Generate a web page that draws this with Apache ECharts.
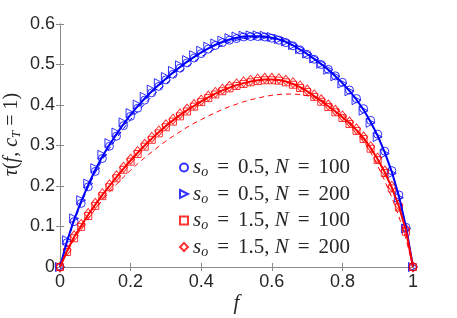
<!DOCTYPE html>
<html>
<head>
<meta charset="utf-8">
<script src="https://cdn.jsdelivr.net/npm/echarts@6/dist/echarts.min.js"></script>
<style>html,body{margin:0;padding:0;background:#fff;}#c{width:457px;height:318px;}</style>
</head>
<body>
<div id="c"></div>
<script>
const fVals = [0,0.02,0.04,0.06,0.08,0.10,0.12,0.14,0.16,0.18,0.20,0.22,0.24,0.26,0.28,0.30,0.32,0.34,0.36,0.38,0.40,0.42,0.44,0.46,0.48,0.50,0.52,0.54,0.56,0.58,0.60,0.62,0.64,0.66,0.68,0.70,0.72,0.74,0.76,0.78,0.80,0.82,0.84,0.86,0.88,0.90,0.92,0.94,0.96,0.98,1.00];

const blueSolid = [0,0.064,0.117,0.162,0.203,0.240,0.273,0.302,0.328,0.353,0.376,0.397,0.416,0.434,0.450,0.465,0.480,0.494,0.507,0.519,0.530,0.540,0.549,0.556,0.562,0.566,0.569,0.570,0.570,0.569,0.566,0.562,0.556,0.547,0.537,0.526,0.514,0.501,0.487,0.471,0.454,0.435,0.413,0.388,0.358,0.324,0.283,0.235,0.175,0.100,0];
const blueDashed = [0,0.062,0.113,0.157,0.197,0.233,0.265,0.293,0.318,0.342,0.364,0.384,0.403,0.421,0.437,0.452,0.467,0.481,0.494,0.507,0.519,0.529,0.539,0.548,0.555,0.560,0.564,0.566,0.567,0.566,0.564,0.560,0.554,0.546,0.537,0.526,0.514,0.501,0.487,0.471,0.454,0.435,0.413,0.388,0.358,0.324,0.283,0.235,0.175,0.100,0];
const blueN100 = [0,0.060,0.112,0.157,0.198,0.236,0.268,0.298,0.323,0.349,0.372,0.392,0.412,0.430,0.446,0.462,0.476,0.491,0.504,0.516,0.527,0.538,0.547,0.554,0.560,0.564,0.568,0.569,0.569,0.568,0.565,0.560,0.554,0.546,0.536,0.525,0.513,0.500,0.488,0.472,0.456,0.437,0.416,0.391,0.362,0.328,0.286,0.238,0.178,0.098,0];
const blueN200 = [0,0.066,0.120,0.165,0.206,0.244,0.277,0.306,0.332,0.357,0.380,0.401,0.420,0.438,0.454,0.469,0.484,0.498,0.511,0.523,0.534,0.544,0.552,0.559,0.565,0.569,0.571,0.572,0.572,0.571,0.568,0.563,0.557,0.548,0.538,0.527,0.515,0.502,0.487,0.471,0.453,0.434,0.412,0.386,0.356,0.321,0.280,0.231,0.171,0.095,0];

const redSolid = [0,0.040,0.074,0.102,0.129,0.154,0.178,0.200,0.222,0.243,0.263,0.282,0.300,0.317,0.333,0.348,0.362,0.375,0.387,0.398,0.409,0.419,0.428,0.436,0.443,0.449,0.454,0.458,0.461,0.463,0.463,0.462,0.458,0.452,0.444,0.434,0.422,0.410,0.397,0.384,0.370,0.355,0.338,0.318,0.294,0.266,0.234,0.196,0.150,0.090,0];
const redDashed = [0,0.036,0.068,0.095,0.120,0.143,0.165,0.185,0.204,0.222,0.239,0.255,0.270,0.284,0.298,0.311,0.323,0.334,0.345,0.355,0.364,0.373,0.381,0.389,0.396,0.402,0.408,0.413,0.417,0.421,0.424,0.426,0.427,0.427,0.426,0.423,0.419,0.413,0.404,0.393,0.378,0.360,0.338,0.312,0.283,0.250,0.213,0.172,0.125,0.070,0];
const redN100 = [0,0.037,0.071,0.099,0.126,0.151,0.175,0.197,0.219,0.240,0.260,0.279,0.297,0.314,0.330,0.345,0.359,0.372,0.384,0.396,0.407,0.417,0.426,0.434,0.441,0.447,0.452,0.456,0.459,0.461,0.461,0.460,0.456,0.450,0.442,0.432,0.420,0.408,0.395,0.382,0.368,0.353,0.336,0.316,0.292,0.264,0.232,0.194,0.147,0.087,0];
const redN200 = [0,0.042,0.077,0.105,0.132,0.157,0.181,0.203,0.225,0.246,0.266,0.285,0.303,0.320,0.336,0.351,0.365,0.378,0.390,0.401,0.412,0.422,0.431,0.439,0.446,0.452,0.457,0.461,0.464,0.466,0.466,0.465,0.461,0.455,0.447,0.437,0.425,0.413,0.400,0.387,0.373,0.358,0.341,0.321,0.297,0.269,0.237,0.199,0.153,0.093,0];

const xTickLabels = ['0','0.2','0.4','0.6','0.8','1'];
const yTickLabels = ['0','0.1','0.2','0.3','0.4','0.5','0.6'];
const legendNames = ['b100','b200','r100','r200'];
const legendTexts = {
  b100: '{i|s}{sub|o}{eq|=}{n|0.5, }{i|N}{eq|=}{n|100}',
  b200: '{i|s}{sub|o}{eq|=}{n|0.5, }{i|N}{eq|=}{n|200}',
  r100: '{i|s}{sub|o}{eq|=}{n|1.5, }{i|N}{eq|=}{n|100}',
  r200: '{i|s}{sub|o}{eq|=}{n|1.5, }{i|N}{eq|=}{n|200}'
};

const BLUE = '#0000ff', RED = '#ff0000';
const AX = '#8a8a8a', TXT = '#262626';
const SERIF = 'Liberation Serif';
const RIGHT_TRI = 'path://M0,0 L10,5 L0,10 Z';

function pairs(ys){ return fVals.map((f,i)=>[f, ys[i]]); }

const richStyles = {
  i: {fontFamily: SERIF, fontStyle: 'italic', fontSize: 21, color: TXT, lineHeight: 24},
  n: {fontFamily: SERIF, fontSize: 21, color: TXT, lineHeight: 24},
  eq: {fontFamily: SERIF, fontSize: 21, color: TXT, lineHeight: 24, padding:[0,9,0,9]},
  sub: {fontFamily: SERIF, fontStyle: 'italic', fontSize: 14, color: TXT, lineHeight: 14, verticalAlign: 'bottom'}
};
const yRich = {
  i: {fontFamily: SERIF, fontStyle: 'italic', fontSize: 20, color: TXT, lineHeight: 22},
  n: {fontFamily: SERIF, fontSize: 20, color: TXT, lineHeight: 22},
  sub: {fontFamily: SERIF, fontStyle: 'italic', fontSize: 13, color: TXT, lineHeight: 13, verticalAlign: 'bottom'}
};

function lineSeries(name, ys, color, width, type){
  return {type:'line', name, data: pairs(ys), symbol:'none', silent:true, z:3,
    lineStyle:{color, width, type}, itemStyle:{color}};
}
function scatterSeries(name, ys, color, symbol, size){
  return {type:'scatter', name, data: pairs(ys), symbol, symbolSize: size, silent:true, z:2,
    itemStyle:{color:'rgba(255,255,255,0)', borderColor:color, borderWidth:1}};
}

const chart = echarts.init(document.getElementById('c'), null, {renderer:'canvas'});
chart.setOption({
  animation:false,
  backgroundColor:'#fff',
  grid:{left:60, right:44, top:24, bottom:51, containLabel:false, outerBoundsMode:'none'},
  legend:{
    data: legendNames, orient:'vertical', left:174, top:152,
    itemWidth:8, itemHeight:8, itemGap:4,
    formatter: n => legendTexts[n],
    textStyle:{rich: richStyles},
    selectedMode:false
  },
  xAxis:[
    {type:'value', min:0, max:1, interval:0.2, position:'bottom',
      axisLine:{show:true, lineStyle:{color:AX, width:1}},
      axisTick:{show:true, inside:true, length:4, lineStyle:{color:AX}},
      axisLabel:{color:TXT, fontFamily:'Liberation Sans', fontSize:18, margin:6,
        formatter: v => xTickLabels[Math.round(v/0.2)]},
      splitLine:{show:false},
      name:'{i|f}', nameLocation:'middle', nameGap:26, nameMoveOverlap:false,
      nameTextStyle:{rich:{i:{fontFamily:SERIF, fontStyle:'italic', fontSize:21, color:TXT}}}
    },
    {type:'value', min:0, max:1, interval:0.2, position:'top',
      axisLine:{show:true, lineStyle:{color:AX, width:1}},
      axisTick:{show:true, inside:true, length:4, lineStyle:{color:AX}},
      axisLabel:{show:false}, splitLine:{show:false}}
  ],
  yAxis:[
    {type:'value', min:0, max:0.6, interval:0.1, position:'left',
      axisLine:{show:true, lineStyle:{color:AX, width:1}},
      axisTick:{show:true, inside:true, length:4, lineStyle:{color:AX}},
      axisLabel:{color:TXT, fontFamily:'Liberation Sans', fontSize:18, margin:5,
        formatter: v => yTickLabels[Math.round(v/0.1)]},
      splitLine:{show:false},
      name:'{i|τ}{n|(}{i|f}{n|, }{i|c}{sub|T}{n| = 1)}', nameLocation:'middle', nameGap:37, nameRotate:90,
      nameMoveOverlap:false,
      nameTextStyle:{rich: yRich, padding:[0,0,0,22]}
    },
    {type:'value', min:0, max:0.6, interval:0.1, position:'right',
      axisLine:{show:true, lineStyle:{color:AX, width:1}},
      axisTick:{show:true, inside:true, length:4, lineStyle:{color:AX}},
      axisLabel:{show:false}, splitLine:{show:false}}
  ],
  series:[
    scatterSeries('b100', blueN100, BLUE, 'circle', 8),
    scatterSeries('b200', blueN200, BLUE, RIGHT_TRI, 9),
    scatterSeries('r100', redN100, RED, 'rect', 7),
    scatterSeries('r200', redN200, RED, 'diamond', [8,10]),
    lineSeries('blueSolid', blueSolid, BLUE, 2, 'solid'),
    lineSeries('blueDashed', blueDashed, BLUE, 1, [5,4]),
    lineSeries('redSolid', redSolid, RED, 2, 'solid'),
    lineSeries('redDashed', redDashed, RED, 1, [5,4])
  ]
});
</script>
</body>
</html>
